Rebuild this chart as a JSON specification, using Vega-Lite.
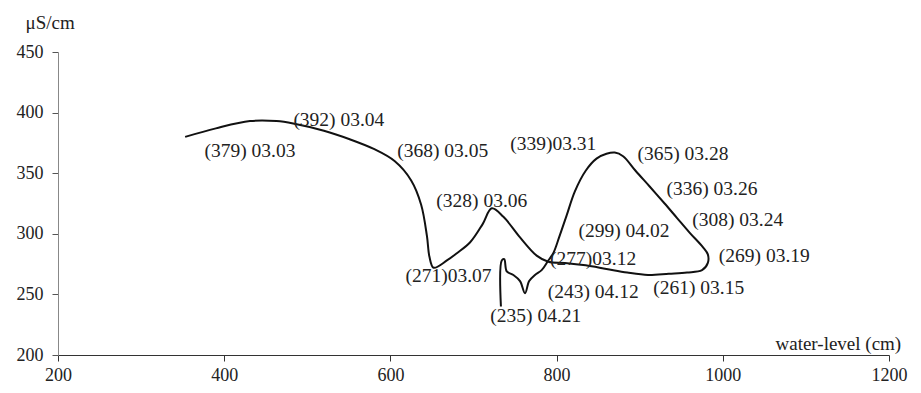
{
  "$schema": "https://vega.github.io/schema/vega-lite/v6.json",
  "width": 831,
  "height": 303,
  "autosize": {"type": "none"},
  "padding": {"left": 58, "top": 52, "right": 32, "bottom": 38},
  "background": "white",
  "config": {
    "view": {"stroke": null},
    "font": "Liberation Serif",
    "axis": {"grid": false, "labelFont": "Liberation Serif", "titleFont": "Liberation Serif", "labelColor": "#222", "titleColor": "#222", "titleFontWeight": "normal"}
  },
  "datasets": {
    "curve": [
      {"i": 1, "wl": 353, "ec": 380},
      {"i": 2, "wl": 390, "ec": 387},
      {"i": 3, "wl": 431, "ec": 393},
      {"i": 4, "wl": 463, "ec": 393},
      {"i": 5, "wl": 483, "ec": 391},
      {"i": 6, "wl": 520, "ec": 385},
      {"i": 7, "wl": 551, "ec": 378},
      {"i": 8, "wl": 580, "ec": 370},
      {"i": 9, "wl": 605, "ec": 360},
      {"i": 10, "wl": 625, "ec": 344},
      {"i": 11, "wl": 637, "ec": 324},
      {"i": 12, "wl": 644, "ec": 298},
      {"i": 13, "wl": 647, "ec": 281},
      {"i": 14, "wl": 652, "ec": 272},
      {"i": 15, "wl": 668, "ec": 278},
      {"i": 16, "wl": 680, "ec": 284},
      {"i": 17, "wl": 696, "ec": 293},
      {"i": 18, "wl": 711, "ec": 308},
      {"i": 19, "wl": 722, "ec": 321},
      {"i": 20, "wl": 736, "ec": 314},
      {"i": 21, "wl": 756, "ec": 297},
      {"i": 22, "wl": 776, "ec": 282},
      {"i": 23, "wl": 790, "ec": 277},
      {"i": 24, "wl": 810, "ec": 276},
      {"i": 25, "wl": 835, "ec": 274},
      {"i": 26, "wl": 860, "ec": 271},
      {"i": 27, "wl": 885, "ec": 268},
      {"i": 28, "wl": 910, "ec": 266},
      {"i": 29, "wl": 935, "ec": 267},
      {"i": 30, "wl": 957, "ec": 268},
      {"i": 31, "wl": 975, "ec": 270},
      {"i": 32, "wl": 982, "ec": 276},
      {"i": 33, "wl": 982, "ec": 283},
      {"i": 34, "wl": 976, "ec": 289},
      {"i": 35, "wl": 960, "ec": 301},
      {"i": 36, "wl": 945, "ec": 313},
      {"i": 37, "wl": 930, "ec": 325},
      {"i": 38, "wl": 912, "ec": 339},
      {"i": 39, "wl": 895, "ec": 352},
      {"i": 40, "wl": 880, "ec": 364},
      {"i": 41, "wl": 870, "ec": 367},
      {"i": 42, "wl": 860, "ec": 366},
      {"i": 43, "wl": 848, "ec": 362},
      {"i": 44, "wl": 835, "ec": 352},
      {"i": 45, "wl": 822, "ec": 335},
      {"i": 46, "wl": 812, "ec": 315},
      {"i": 47, "wl": 803, "ec": 297},
      {"i": 48, "wl": 796, "ec": 284},
      {"i": 49, "wl": 790, "ec": 278},
      {"i": 50, "wl": 782, "ec": 270},
      {"i": 51, "wl": 774, "ec": 266},
      {"i": 52, "wl": 767, "ec": 261},
      {"i": 53, "wl": 762, "ec": 251},
      {"i": 54, "wl": 756, "ec": 261},
      {"i": 55, "wl": 748, "ec": 266},
      {"i": 56, "wl": 740, "ec": 269},
      {"i": 57, "wl": 737, "ec": 279},
      {"i": 58, "wl": 734, "ec": 278},
      {"i": 59, "wl": 733, "ec": 240}
    ],
    "labels": [
      {"wl": 431, "ec": 368, "t": "(379) 03.03"},
      {"wl": 538, "ec": 394, "t": "(392) 03.04"},
      {"wl": 663, "ec": 368, "t": "(368) 03.05"},
      {"wl": 710, "ec": 327, "t": "(328) 03.06"},
      {"wl": 670, "ec": 265, "t": "(271)03.07"},
      {"wl": 775, "ec": 232, "t": "(235) 04.21"},
      {"wl": 844, "ec": 252, "t": "(243) 04.12"},
      {"wl": 844, "ec": 279.5, "t": "(277)03.12"},
      {"wl": 881, "ec": 302.5, "t": "(299) 04.02"},
      {"wl": 796, "ec": 374, "t": "(339)03.31"},
      {"wl": 952, "ec": 365.6, "t": "(365) 03.28"},
      {"wl": 987, "ec": 337, "t": "(336) 03.26"},
      {"wl": 1018, "ec": 311, "t": "(308) 03.24"},
      {"wl": 1050, "ec": 282, "t": "(269) 03.19"},
      {"wl": 971, "ec": 255, "t": "(261) 03.15"}
    ]
  },
  "layer": [
    {
      "data": {"name": "curve"},
      "mark": {"type": "line", "color": "#111", "strokeWidth": 2, "interpolate": "catmull-rom"},
      "encoding": {
        "x": {
          "field": "wl", "type": "quantitative",
          "scale": {"domain": [200, 1200], "nice": false, "zero": false},
          "axis": {
            "values": [200, 400, 600, 800, 1000, 1200],
            "format": "d",
            "labelFlush": false,
            "title": "water-level (cm)",
            "titleAnchor": "start", "titleAlign": "left", "titleBaseline": "alphabetic",
            "titleX": 717, "titleY": -6, "titleFontSize": 19,
            "labelFontSize": 18, "labelPadding": 5, "tickSize": 6,
            "domainColor": "#333", "tickColor": "#333", "domainWidth": 1.2
          }
        },
        "y": {
          "field": "ec", "type": "quantitative",
          "scale": {"domain": [200, 450], "nice": false, "zero": false},
          "axis": {
            "values": [200, 250, 300, 350, 400, 450],
            "format": "d",
            "labelFlush": false,
            "title": "μS/cm",
            "titleAngle": 0, "titleAnchor": "start", "titleAlign": "left", "titleBaseline": "alphabetic",
            "titleX": -33, "titleY": -24, "titleFontSize": 19,
            "labelFontSize": 18, "labelPadding": 9, "tickSize": 6,
            "domainColor": "#888", "tickColor": "#555"
          }
        },
        "order": {"field": "i", "type": "quantitative"}
      }
    },
    {
      "data": {"name": "labels"},
      "mark": {"type": "text", "fontSize": 19.5, "font": "Liberation Serif", "color": "#222", "align": "center", "baseline": "middle"},
      "encoding": {
        "x": {"field": "wl", "type": "quantitative"},
        "y": {"field": "ec", "type": "quantitative"},
        "text": {"field": "t"}
      }
    }
  ]
}
